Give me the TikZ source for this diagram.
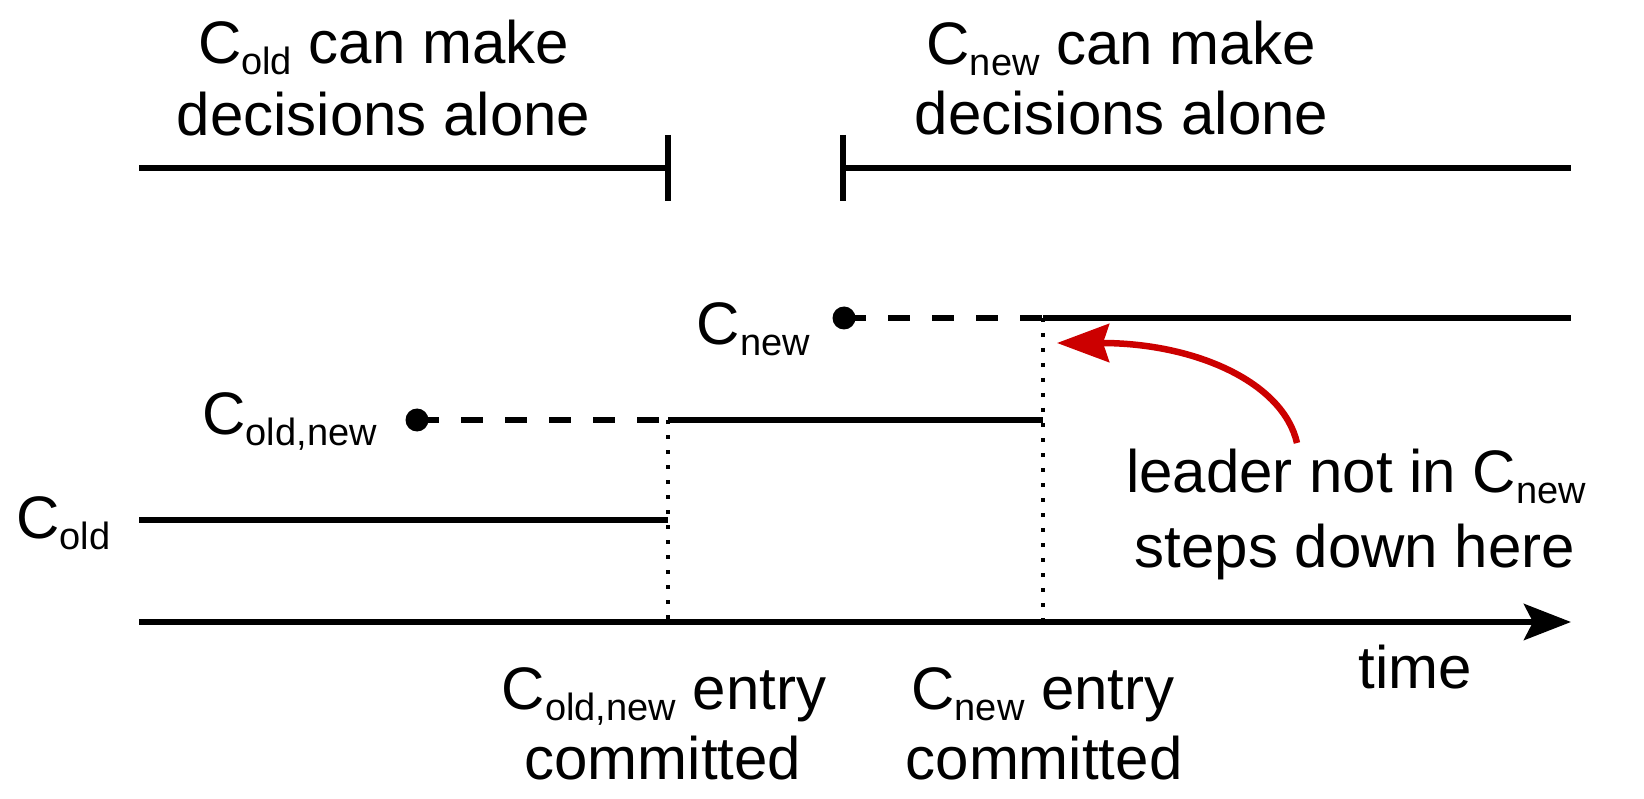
\documentclass[tikz,border=0pt]{standalone}
\usepackage{fontspec}
\setmainfont{Liberation Sans}
\usetikzlibrary{arrows.meta}
\definecolor{myred}{RGB}{204,0,0}
\newcommand{\cs}[1]{\raisebox{-11pt}{\fontsize{38}{38}\selectfont #1}}
\tikzset{
  lbl/.style={inner sep=0pt, font=\fontsize{60}{72}\selectfont},
  bar/.style={line width=6.5pt},
  dashline/.style={line width=6.5pt, dash pattern=on 22pt off 22pt},
  dotline/.style={line width=4pt, dash pattern=on 4pt off 11pt},
  dotnode/.style={circle, fill=black, inner sep=0pt, minimum size=23pt},
}
\begin{document}
\begin{tikzpicture}[x=1pt,y=-1pt]
\useasboundingbox (0,0) rectangle (1644,799);

% top labels
\node[lbl, anchor=base] (tl1) at (383.5,64) {C\cs{old} can make};
\node[lbl, anchor=base] (tl2) at (383.5,136) {decisions alone};
\node[lbl, anchor=base] (tr1) at (1121.5,65) {C\cs{new} can make};
\node[lbl, anchor=base] (tr2) at (1121.5,135) {decisions alone};

% top bars
\coordinate (lbA) at (139,168);
\coordinate (lbB) at (668,168);
\coordinate (lbT) at (668,135);
\coordinate (lbD) at (668,201);
\coordinate (rbA) at (843,168);
\coordinate (rbB) at (1571,168);
\coordinate (rbT) at (843,135);
\coordinate (rbD) at (843,201);
\draw[bar] (lbA) -- (lbB);
\draw[bar] (lbT) -- (lbD);
\draw[bar] (rbA) -- (rbB);
\draw[bar] (rbT) -- (rbD);

% C_new line
\node[dotnode] (dnew) at (844,318) {};
\coordinate (newc) at (1043,318);
\coordinate (newe) at (1571,318);
\draw[dashline] (dnew.center) -- (newc);
\draw[bar] (newc) -- (newe);
\node[lbl, anchor=base east] (lnew) at (810,345) {C\cs{new}};

% C_old,new line
\node[dotnode] (don) at (417,420) {};
\coordinate (onc) at (668,420);
\coordinate (one) at (1043,420);
\draw[dashline] (don.center) -- (onc);
\draw[bar] (onc) -- (one);
\node[lbl, anchor=base east] (lon) at (377,435) {C\cs{old,new}};

% C_old line
\coordinate (olds) at (139,520);
\coordinate (olde) at (668,520);
\draw[bar] (olds) -- (olde);
\node[lbl, anchor=base west] (lold) at (16,538) {C\cs{old}};

% time axis
\coordinate (ax0) at (139,622);
\coordinate (ax1) at (1571,622);
\draw[bar, -{Stealth[length=47pt,width=36pt,inset=9pt]}] (ax0) -- (ax1);
\node[lbl, anchor=base] (time) at (1415,688) {time};

% dotted verticals
\coordinate (d1b) at (668,622);
\coordinate (d2b) at (1043,622);
\draw[dotline] (onc) -- (d1b);
\draw[dotline] (newc) -- (d2b);

% bottom labels
\node[lbl, anchor=base] (b1a) at (664,709) {C\cs{old,new} entry};
\node[lbl, anchor=base] (b1b) at (663,779) {committed};
\node[lbl, anchor=base] (b2a) at (1043,709) {C\cs{new} entry};
\node[lbl, anchor=base] (b2b) at (1044,779) {committed};

% leader note
\node[lbl, anchor=base] (ld1) at (1356,492) {leader not in C\cs{new}};
\node[lbl, anchor=base] (ld2) at (1355,567) {steps down here};
\coordinate (rs) at (1297,443);
\coordinate (rt) at (1057,343);
\draw[myred, line width=6.5pt, -{Stealth[length=52pt,width=38pt,inset=6pt]}]
  (rs) .. controls (1283,382) and (1195,343) .. (rt);
\end{tikzpicture}
\end{document}
